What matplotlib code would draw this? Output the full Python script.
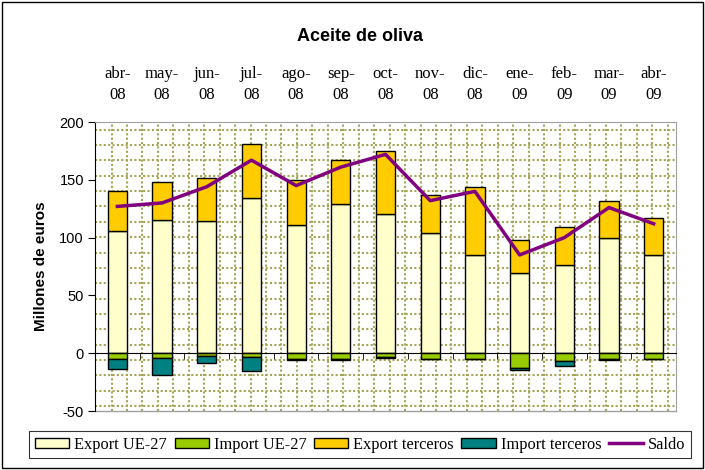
import numpy as np
import matplotlib
matplotlib.use('Agg')
import matplotlib.pyplot as plt
from matplotlib.patches import Rectangle

plt.rcParams['axes.unicode_minus'] = False

# Datos (millones de euros)
meses = ['abr-\n08', 'may-\n08', 'jun-\n08', 'jul-\n08', 'ago-\n08', 'sep-\n08', 'oct-\n08',
         'nov-\n08', 'dic-\n08', 'ene-\n09', 'feb-\n09', 'mar-\n09', 'abr-\n09']
export_ue = [106, 115, 114, 134, 111, 129, 120, 104, 85, 69, 76, 100, 85]
import_ue = [-5.2, -4.0, -2.3, -3.2, -5.2, -5.2, -3.5, -4.9, -4.9, -12.6, -6.6, -5.2, -4.9]
export_terc = [34, 33, 38, 47, 39, 38, 55, 33, 59, 29, 33, 32, 32]
import_terc = [-8.6, -15.0, -6.0, -11.8, -0.3, -0.6, -0.6, -0.5, -0.5, -2.3, -4.3, -0.5, -0.5]
saldo = [127, 130, 144, 167, 145, 161, 172, 132, 140, 85, 100, 126, 112]

c_exp_ue = '#FFFFCC'
c_imp_ue = '#99CC00'
c_exp_t = '#FFCC00'
c_imp_t = '#008080'
c_saldo = '#800080'

fig = plt.figure(figsize=(7.05, 4.70), dpi=100)
ax = fig.add_axes([0.1348, 0.1255, 0.8241, 0.6149])

x = np.arange(len(meses))
w = 0.43

# Rejilla punteada del fondo (patrón del área de trazado)
grid_c = '#a4a454'
for k in range(19):
    yy = (5 + k * 15.35) / 289
    if yy < 1:
        ax.plot([0, 1], [yy, yy], transform=ax.transAxes, color=grid_c,
                lw=1.5, ls=(0, (1, 1.1)), zorder=0)
for k in range(38):
    xx = (16.5 + k * 15.45) / 581
    if xx < 1:
        ax.plot([xx, xx], [0, 1], transform=ax.transAxes, color=grid_c,
                lw=1.5, ls=(0, (1, 1.1)), zorder=0)

b1 = ax.bar(x, export_ue, w, color=c_exp_ue, edgecolor='black', lw=1, label='Export UE-27', zorder=3)
b2 = ax.bar(x, import_ue, w, color=c_imp_ue, edgecolor='black', lw=1, label='Import UE-27', zorder=3)
b3 = ax.bar(x, export_terc, w, bottom=export_ue, color=c_exp_t, edgecolor='black', lw=1,
            label='Export terceros', zorder=3)
b4 = ax.bar(x, import_terc, w, bottom=import_ue, color=c_imp_t, edgecolor='black', lw=1,
            label='Import terceros', zorder=3)
l1, = ax.plot(x, saldo, color=c_saldo, lw=2.5, label='Saldo', zorder=4)

ax.set_xlim(-0.5, len(meses) - 0.5)
ax.set_ylim(-50, 200)
ax.set_yticks([-50, 0, 50, 100, 150, 200])
ax.tick_params(axis='y', direction='out', length=5, labelsize=10.5, pad=3)
for t in ax.get_yticklabels():
    t.set_family('Liberation Sans')

# eje x en el cero, etiquetas arriba
ax.spines['bottom'].set_position(('data', 0))
ax.spines['bottom'].set_color('black')
ax.spines['bottom'].set_zorder(5)
ax.set_xticks(x)
ax.set_xticklabels(meses, family='Liberation Serif', fontsize=12, linespacing=1.4)
ax.set_xticks(np.arange(len(meses) + 1) - 0.5, minor=True)
ax.tick_params(axis='x', which='major', bottom=False, top=False, labelbottom=False,
               labeltop=True, pad=10.5)
ax.tick_params(axis='x', which='minor', bottom=True, top=False, direction='out', length=4)
for s in ['top', 'right']:
    ax.spines[s].set_color('#a0a0a0')
ax.plot([0, 1], [0, 0], transform=ax.transAxes, color='#a0a0a0', lw=1, clip_on=False)

ax.set_ylabel('Millones de euros', family='Liberation Sans', fontsize=11, fontweight='bold',
              labelpad=8)
fig.text(0.511, 0.922, 'Aceite de oliva', ha='center', va='center', family='Liberation Sans',
         fontsize=13, fontweight='bold')

leg = fig.legend([b1, b2, b3, b4, l1],
                 ['Export UE-27', 'Import UE-27', 'Export terceros', 'Import terceros', 'Saldo'],
                 loc='center', bbox_to_anchor=(0.511, 0.054), ncol=5, frameon=True,
                 fancybox=False, edgecolor='black', prop={'family': 'Liberation Serif', 'size': 11.8},
                 handlelength=2.1, handleheight=0.6, handletextpad=0.3, columnspacing=0.45,
                 borderpad=0.35)
leg.get_frame().set_linewidth(0.8)

fig.patches.append(Rectangle((0.003, 0.004), 0.994, 0.992, transform=fig.transFigure,
                             fill=False, edgecolor='black', lw=1))

fig.savefig('out.png', dpi=100)
